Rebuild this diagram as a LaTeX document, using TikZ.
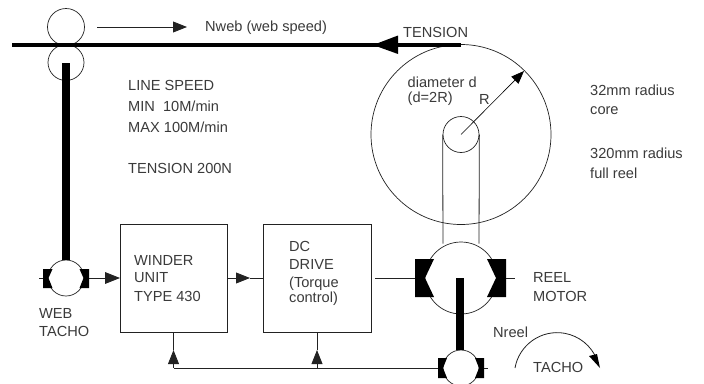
\documentclass[tikz,border=0pt]{standalone}
\usepackage{fontspec}
\setmainfont{Liberation Sans}
\usetikzlibrary{arrows.meta}
\definecolor{ink}{HTML}{3A3A3A}
\definecolor{linecol}{HTML}{222222}
\tikzset{
  wire/.style={draw=linecol,line width=0.8pt},
  thick bar/.style={draw=black,line width=8pt},
  web/.style={draw=black,line width=4pt},
  roll/.style={circle,draw=linecol,line width=0.7pt,inner sep=0pt,minimum size=#1},
  block/.style={rectangle,draw=linecol,line width=0.8pt,inner sep=0pt,minimum height=108pt},
  txt/.style={anchor=west,inner sep=0pt,text=ink,font=\fontsize{14.6}{16}\selectfont},
  tip/.style={-{Triangle[length=#1,width=#1*0.78]}},
  brush/.style={fill=black,draw=none}
}
\begin{document}
\begin{tikzpicture}[x=1pt,y=-1pt]
\useasboundingbox (0,0) rectangle (704,383);
\clip (0,0) rectangle (704,383);
% rollers
\node[roll=37pt] (rolltop) at (66,27) {};
\node[roll=36pt] (rollbot) at (66,62.5) {};
% reel
\node[roll=180pt] (reel) at (461,134.5) {};
\node[roll=36pt] (core) at (461,134.5) {};
% machines
\node[roll=72pt] (motor) at (461,278) {};
\node[roll=36pt] (webtacho) at (66,278) {};
\node[roll=36pt] (reeltacho) at (461,368) {};
% blocks
\node[block,minimum width=107pt,anchor=north west] (winder) at (120,224) {};
\node[block,minimum width=108pt,anchor=north west] (drive) at (263,224) {};
% web
\coordinate (webL) at (12,45);
\coordinate (webR) at (461,45);
\coordinate (tensiontip) at (373,45);
\draw[web] (webL) -- (webR);
\fill[black] (tensiontip) -- (398,35.5) -- (398,54) -- cycle;
% speed arrow
\coordinate (nwebA) at (97,27);
\coordinate (nwebB) at (187,27);
\draw[wire,tip=14pt] (nwebA) -- (nwebB);
% shafts
\coordinate (shaft1top) at (66,63);
\draw[thick bar] (shaft1top) -- (webtacho.north);
\coordinate (shaft2top) at (460,278);
\draw[thick bar] (shaft2top) -- (460,350);
% core lines
\draw[wire] (core.west) -- (443,243.5);
\draw[wire] (core.east) -- (479,243.5);
% radius arrow
\coordinate (radtip) at (524,71);
\draw[draw=black,line width=0.6pt,-{Triangle[length=13pt,width=10pt]}] (core.center) -- (radtip);
% brushes
\fill[brush] (43,269) -- (52.5,269) -- (48.5,278) -- (52.5,288) -- (43,288) -- cycle;
\fill[brush] (89,269) -- (79.5,269) -- (83.5,278) -- (79.5,288) -- (89,288) -- cycle;
\fill[brush] (415,259) -- (434,259) -- (425,278) -- (434,297) -- (415,297) -- cycle;
\fill[brush] (506,259) -- (487,259) -- (496,278) -- (487,297) -- (506,297) -- cycle;
\fill[brush] (438,358) -- (447,358) -- (443,368) -- (447,378) -- (438,378) -- cycle;
\fill[brush] (484,358) -- (475,358) -- (479,368) -- (475,378) -- (484,378) -- cycle;
% stubs and signal lines
\coordinate (wtL) at (39,278);
\coordinate (wtR) at (89,278);
\coordinate (mL) at (415,278);
\coordinate (mR) at (515,278);
\coordinate (rtL) at (438,368);
\coordinate (rtR) at (488,368);
\coordinate (rtS) at (484,368);
\draw[wire] (wtL) -- (43,278);
\draw[wire,tip=15pt] (wtR) -- (winder.west |- wtR);
\coordinate (w2) at (227,278);
\coordinate (wm) at (250,278);
\coordinate (d1) at (263,278);
\draw[wire,tip=14pt] (w2) -- (wm);
\draw[wire] (wm) -- (d1);
\coordinate (d2) at (375,278);
\draw[wire] (d2) -- (mL);
\draw[wire] (506,278) -- (mR);
\draw[wire] (rtS) -- (rtR);
% feedback
\coordinate (fb1) at (173.5,368);
\coordinate (fb1t) at (173.5,350);
\coordinate (fb2) at (317,368);
\coordinate (fb2t) at (317,350);
\draw[wire] (rtL) -- (fb1);
\draw[wire,tip=14pt] (fb1) -- (fb1t);
\draw[wire] (fb1t) -- (winder.south -| fb1t);
\draw[wire,tip=14pt] (fb2) -- (fb2t);
\draw[wire] (fb2t) -- (drive.south -| fb2t);
% rotation arrow
\coordinate (rotA) at (515,368);
\draw[wire] (rotA) arc[start angle=170,end angle=22,radius=42.8pt];
\fill[black] (600,368) -- (589,356) -- (597,354) -- cycle;
% text
\node[txt] (t1) at (205,28) {Nweb (web speed)};
\node[txt] (t2) at (403,32) {TENSION};
\node[txt] (t3) at (128,85) {LINE SPEED};
\node[txt] (t4) at (128,106.5) {MIN\ \ 10M/min};
\node[txt] (t5) at (128,127.5) {MAX 100M/min};
\node[txt] (t6) at (128,168) {TENSION 200N};
\node[txt] (t7) at (407.5,82) {diameter d};
\node[txt] (t8) at (407.5,99) {(d=2R)};
\node[txt] (t9) at (479,99) {R};
\node[txt] (t10) at (590,90) {32mm radius};
\node[txt] (t11) at (590,111) {core};
\node[txt] (t12) at (590,153) {320mm radius};
\node[txt] (t13) at (590,173) {full reel};
\node[txt] (t14) at (134,260) {WINDER};
\node[txt] (t15) at (134,278) {UNIT};
\node[txt] (t16) at (134,296) {TYPE 430};
\node[txt] (t17) at (289,246) {DC};
\node[txt] (t18) at (289,264) {DRIVE};
\node[txt] (t19) at (289,284) {(Torque};
\node[txt] (t20) at (289,299) {control)};
\node[txt] (t21) at (39,313) {WEB};
\node[txt] (t22) at (39,331) {TACHO};
\node[txt] (t23) at (533,277) {REEL};
\node[txt] (t24) at (533,296) {MOTOR};
\node[txt] (t25) at (493,332) {Nreel};
\node[txt] (t26) at (533,367) {TACHO};
\end{tikzpicture}
\end{document}
